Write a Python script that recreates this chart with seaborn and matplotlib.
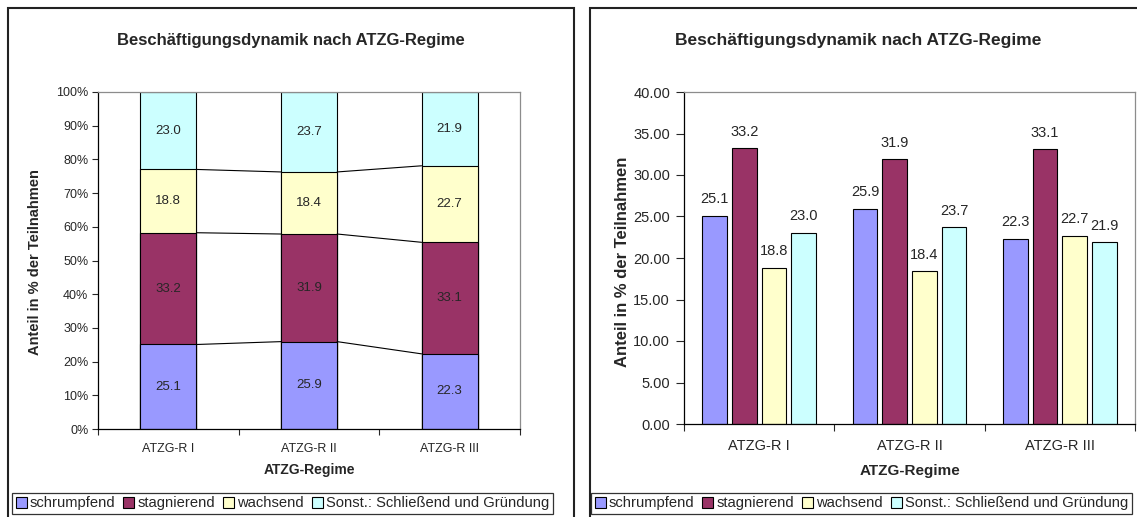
import numpy as np
import pandas as pd
import matplotlib
matplotlib.use("Agg")
import matplotlib.pyplot as plt
import seaborn as sns
from matplotlib.patches import Rectangle, Patch

# Data
regimes = ["ATZG-R I", "ATZG-R II", "ATZG-R III"]
series = ["schrumpfend", "stagnierend", "wachsend", "Sonst.: Schließend und Gründung"]
schrumpfend = [25.1, 25.9, 22.3]
stagnierend = [33.2, 31.9, 33.1]
wachsend = [18.8, 18.4, 22.7]
sonstige = [23.0, 23.7, 21.9]
colors = ["#9999FF", "#993366", "#FFFFCC", "#CCFFFF"]

title = "Beschäftigungsdynamik nach ATZG-Regime"
ylabel = "Anteil in % der Teilnahmen"
xlabel = "ATZG-Regime"

sns.set_style("white")
plt.rcParams["font.family"] = ["Liberation Sans", "DejaVu Sans"]

W, H = 1137, 517
fig = plt.figure(figsize=(W / 100, H / 100), dpi=100)


def px(x0, y0, x1, y1):
    # pixel box (top-left origin) -> figure fraction rect
    return [x0 / W, 1 - y1 / H, (x1 - x0) / W, (y1 - y0) / H]


values = np.array([schrumpfend, stagnierend, wachsend, sonstige])
shares = values / values.sum(axis=0) * 100
cum = np.cumsum(shares, axis=0)

# ---- left: 100% stacked columns ----
ax1 = fig.add_axes(px(98, 92, 520, 429))
bar_w = 0.40
for k in range(len(series) - 1, -1, -1):
    sns.barplot(x=regimes, y=cum[k], color=colors[k], width=bar_w,
                edgecolor="black", linewidth=0.8, saturation=1, ax=ax1)

# series lines between stacked columns
for k in range(len(series) - 1):
    for i in range(len(regimes) - 1):
        ax1.plot([i + bar_w / 2, i + 1 - bar_w / 2], [cum[k, i], cum[k, i + 1]],
                 color="black", linewidth=0.8)

for k in range(len(series)):
    for i in range(len(regimes)):
        base = cum[k, i] - shares[k, i]
        ax1.text(i, base + shares[k, i] / 2, f"{values[k, i]:.1f}",
                 ha="center", va="center", fontsize=9.5)

ax1.set_ylim(0, 100)
ax1.set_xlim(-0.5, 2.5)
ax1.set_yticks(np.arange(0, 101, 10))
ax1.set_yticklabels([f"{v}%" for v in range(0, 101, 10)], fontsize=9)
ax1.set_xticks([-0.5, 0.5, 1.5, 2.5])
ax1.set_xticklabels([])
ax1.set_xticks([0, 1, 2], minor=True)
ax1.set_xticklabels(regimes, minor=True, fontsize=9)
ax1.tick_params(axis="y", left=True, length=4, width=0.8, pad=3)
ax1.tick_params(axis="x", which="major", bottom=True, length=4, width=0.8)
ax1.tick_params(axis="x", which="minor", length=0, pad=10)
ax1.set_xlabel("")
ax1.set_ylabel("")

# ---- right: grouped columns ----
df = pd.DataFrame({
    "regime": np.repeat(regimes, len(series)),
    "series": series * len(regimes),
    "value": values.T.ravel(),
})
ax2 = fig.add_axes(px(684, 92, 1135, 424))
sns.barplot(data=df, x="regime", y="value", hue="series", hue_order=series,
            palette=colors, width=0.79, gap=0.165, saturation=1,
            edgecolor="black", linewidth=0.8, legend=False, ax=ax2)
for cont in ax2.containers:
    ax2.bar_label(cont, fmt="%.1f", padding=7, fontsize=10.5)

ax2.set_ylim(0, 40)
ax2.set_xlim(-0.5, 2.5)
ax2.set_yticks(np.arange(0, 41, 5))
ax2.set_yticklabels([f"{v:.2f}" for v in range(0, 41, 5)], fontsize=10.5)
ax2.set_xticks([-0.5, 0.5, 1.5, 2.5])
ax2.set_xticklabels([])
ax2.set_xticks([0, 1, 2], minor=True)
ax2.set_xticklabels(regimes, minor=True, fontsize=10.5)
ax2.tick_params(axis="y", left=True, length=6, width=0.8, pad=4)
ax2.tick_params(axis="x", which="major", bottom=True, length=5, width=0.8)
ax2.tick_params(axis="x", which="minor", length=0, pad=11)
ax2.set_xlabel("")
ax2.set_ylabel("")

for ax in (ax1, ax2):
    for side in ("left", "bottom"):
        ax.spines[side].set_color("black")
        ax.spines[side].set_linewidth(0.9)
    for side in ("top", "right"):
        ax.spines[side].set_color("#8c8c8c")
        ax.spines[side].set_linewidth(0.9)

# ---- chart frames, titles, axis labels ----
fig.patches.append(Rectangle((8 / W, -0.05), (574 - 8) / W, 1.05 - 8 / H,
                             transform=fig.transFigure, fill=False,
                             edgecolor="#222222", linewidth=1.5))
fig.patches.append(Rectangle((590 / W, -0.05), 0.5, 1.05 - 8 / H,
                             transform=fig.transFigure, fill=False,
                             edgecolor="#222222", linewidth=1.5))

fig.text(291 / W, 1 - 40 / H, title, ha="center", va="center",
         fontsize=12, fontweight="bold")
fig.text(858 / W, 1 - 40 / H, title, ha="center", va="center",
         fontsize=12.5, fontweight="bold")
fig.text(35 / W, 1 - 262 / H, ylabel, ha="center", va="center",
         rotation=90, fontsize=10.5, fontweight="bold")
fig.text(622 / W, 1 - 262 / H, ylabel, ha="center", va="center",
         rotation=90, fontsize=12, fontweight="bold")
fig.text(309 / W, 1 - 470 / H, xlabel, ha="center", va="center",
         fontsize=10, fontweight="bold")
fig.text(910 / W, 1 - 471 / H, xlabel, ha="center", va="center",
         fontsize=11, fontweight="bold")

# ---- legends ----
handles = [Patch(facecolor=c, edgecolor="black", linewidth=0.8) for c in colors]
for x0 in (12 / W, 591 / W):
    leg = fig.legend(handles, series, ncol=4, loc="lower left",
                     bbox_to_anchor=(x0, 1 - 514 / H), fontsize=10.6,
                     frameon=True, fancybox=False, edgecolor="black",
                     handlelength=0.75, handleheight=0.75, handletextpad=0.2,
                     columnspacing=0.55, borderpad=0.25, borderaxespad=0)
    leg.get_frame().set_linewidth(0.9)

fig.savefig("out.png", dpi=100, facecolor="white")
